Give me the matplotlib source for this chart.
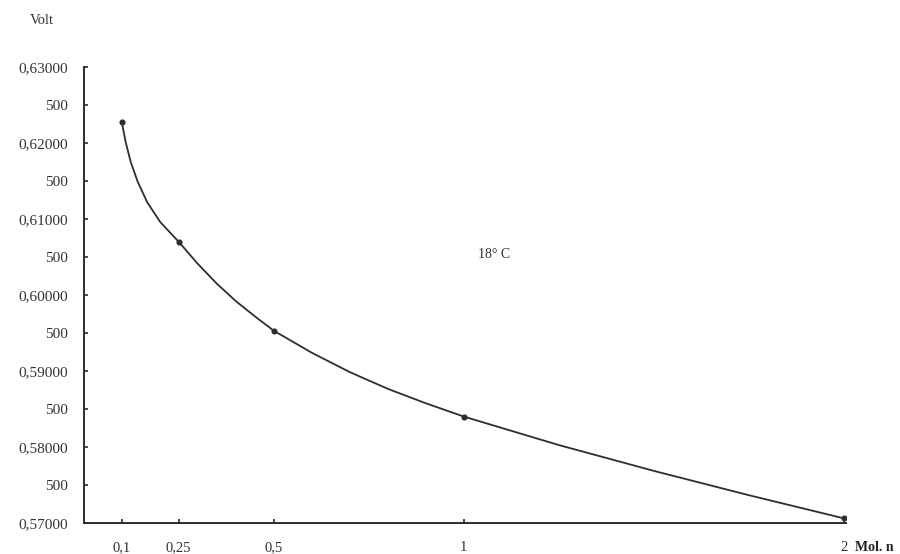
import matplotlib
matplotlib.use('Agg')
import matplotlib.pyplot as plt

# concentration (Mol. n) and measured potential (Volt) at 18 C
conc = [0.1, 0.25, 0.5, 1, 2]
volt = [0.6228, 0.6070, 0.5953, 0.5840, 0.5706]

curve_x = [0.1, 0.1105, 0.1237, 0.1421, 0.1671, 0.2013, 0.25,
           0.30, 0.35, 0.40, 0.45, 0.5,
           0.6, 0.7, 0.8, 0.9, 1.0,
           1.25, 1.5, 1.75, 2.0]
curve_y = [0.6228, 0.6201, 0.6175, 0.6149, 0.6122, 0.6096, 0.6070,
           0.6041, 0.6015, 0.5992, 0.5972, 0.5953,
           0.5924, 0.58985, 0.58765, 0.58575, 0.5840,
           0.58025, 0.57685, 0.57365, 0.5706]

xticks = [0.1, 0.25, 0.5, 1, 2]
xlabels = ['0,1', '0,25', '0,5', '1', '2']
yticks = [0.570, 0.575, 0.580, 0.585, 0.590, 0.595, 0.600, 0.605,
          0.610, 0.615, 0.620, 0.625, 0.630]
ylabels = ['0,57000', '500', '0,58000', '500', '0,59000', '500', '0,60000',
           '500', '0,61000', '500', '0,62000', '500', '0,63000']

plt.rcParams['font.family'] = ['Liberation Serif', 'DejaVu Serif']
ink = '#2e2e2e'

fig = plt.figure(figsize=(9, 5.54), dpi=100)
ax = fig.add_axes([0.093, 0.056, 0.847, 0.823])

ax.plot(curve_x, curve_y, color=ink, lw=1.3, solid_joinstyle='round',
        solid_capstyle='round')
ax.plot(conc, volt, 'o', color=ink, ms=3.4)

ax.set_xlim(0, 2.005)
ax.set_ylim(0.57, 0.63)
for s in ['top', 'right']:
    ax.spines[s].set_visible(False)
for s in ['left', 'bottom']:
    ax.spines[s].set_color(ink)
    ax.spines[s].set_linewidth(1.4)

ax.set_xticks(xticks)
ax.set_xticklabels(xlabels)
ax.set_yticks(yticks)
ax.set_yticklabels(ylabels)
ax.tick_params(axis='x', direction='in', length=3, width=1.2, color=ink,
               pad=13, labelsize=10.5, labelcolor='#333333')
ax.tick_params(axis='y', direction='in', length=3, width=1.2, color=ink,
               pad=11, labelsize=11, labelcolor='#333333')

fig.text(0.046, 0.963, 'Volt', fontsize=10.5, color='#333333', ha='center', va='center')
fig.text(0.950, 0.012, 'Mol. n', fontsize=10, color='#222222', ha='left', va='center',
         fontweight='bold')
ax.text(1.08, 0.6053, '18° C', fontsize=10, color='#333333', ha='center', va='center')

fig.savefig('out.png', dpi=100, facecolor='white')
